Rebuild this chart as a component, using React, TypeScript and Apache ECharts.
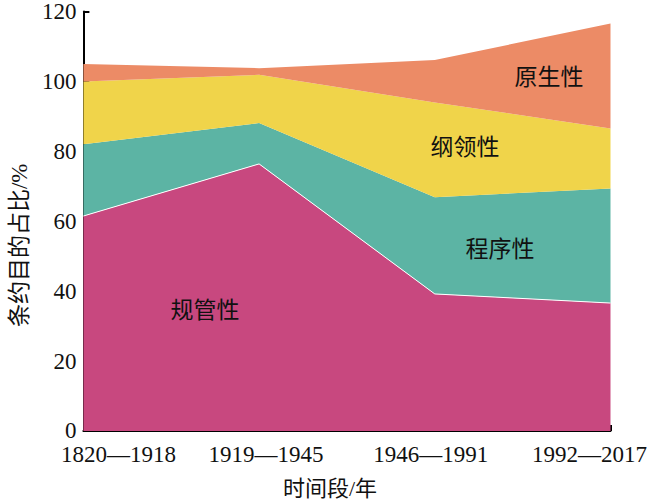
import React, { useEffect, useRef } from "react";
import * as echarts from "echarts";

const categories = ["1820—1918", "1919—1945", "1946—1991", "1992—2017"];
const seriesNames = ["规管性", "程序性", "纲领性", "原生性"];
const regulatory = [61.5, 76.4, 39.2, 36.6];
const procedural = [20.5, 11.7, 27.7, 32.8];
const programmatic = [18.0, 13.8, 27.1, 17.1];
const original = [5.0, 1.9, 12.1, 30.1];
const yTicks = { min: 0, max: 120, interval: 20 };
const areaLabels = [
  { text: "原生性", x: 549, y: 77 },
  { text: "纲领性", x: 465, y: 147 },
  { text: "程序性", x: 500, y: 249 },
  { text: "规管性", x: 205, y: 310 },
];

const colors = ["#C8487F", "#5CB4A4", "#F0D44A", "#EC8B66"];
const serif = "Liberation Serif, Times New Roman, Noto Sans CJK SC, serif";
const cjk = "Liberation Serif, Noto Sans CJK SC, serif";

export default function App() {
  const ref = useRef<HTMLDivElement>(null);
  useEffect(() => {
    if (!ref.current) return;
    document.body.style.margin = "0";
    const chart = echarts.init(ref.current, null, { renderer: "svg" });
    const values = [regulatory, procedural, programmatic, original];
    const pads = [
      [0, 0, 0, 70],
      [0, 0, 0, 14],
      [0, 8, 0, 0],
      [0, 42, 0, 0],
    ];
    const rich: any = {};
    pads.forEach((p, i) => {
      rich["l" + i] = { fontFamily: serif, fontSize: 23, color: "#111", padding: p };
    });
    chart.setOption({
      animation: false,
      grid: { left: 76, right: 38, top: 8, bottom: 71, containLabel: false },
      xAxis: {
        type: "category",
        data: categories,
        boundaryGap: false,
        name: "时间段/年",
        nameLocation: "middle",
        nameGap: 46,
        nameTextStyle: { fontFamily: cjk, fontSize: 22, color: "#111", padding: [0, 34, 0, 0] },
        axisLine: { lineStyle: { color: "#000", width: 2 } },
        axisTick: { inside: true, length: 6, lineStyle: { color: "#000", width: 2 }, alignWithLabel: true },
        axisLabel: {
          interval: 0,
          margin: 12,
          formatter: (v: string, i: number) => `{l${i}|${v}}`,
          rich,
        },
        splitLine: { show: false },
      },
      yAxis: {
        type: "value",
        min: yTicks.min,
        max: yTicks.max,
        interval: yTicks.interval,
        name: "条约目的占比/%",
        nameLocation: "middle",
        nameGap: 52,
        nameTextStyle: { fontFamily: cjk, fontSize: 23, color: "#111", padding: [0, 48, 0, 0] },
        axisLine: { show: true, lineStyle: { color: "#000", width: 2 } },
        axisTick: { show: true, inside: true, length: 6, lineStyle: { color: "#000", width: 2 } },
        axisLabel: { fontFamily: serif, fontSize: 23, color: "#111", margin: 7 },
        splitLine: { show: false },
      },
      series: values.map((d, i) => ({
        name: seriesNames[i],
        type: "line",
        stack: "total",
        data: d,
        symbol: "none",
        lineStyle: i === 0 ? { color: "#ffffff", width: 1 } : { width: 0, opacity: 0 },
        areaStyle: { color: colors[i], opacity: 1 },
        itemStyle: { color: colors[i] },
      })),
      graphic: areaLabels.map((l) => ({
        type: "text",
        x: l.x,
        y: l.y,
        z: 100,
        style: {
          text: l.text,
          fontSize: 23,
          fontFamily: cjk,
          fill: "#111",
          align: "center",
          verticalAlign: "middle",
        },
      })),
    });
    return () => chart.dispose();
  }, []);
  return <div ref={ref} style={{ width: 650, height: 504 }} />;
}
